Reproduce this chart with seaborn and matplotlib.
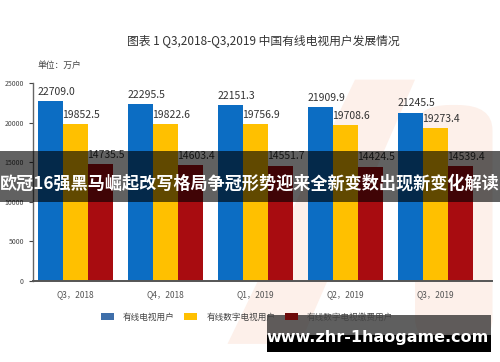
import pandas as pd
import matplotlib.pyplot as plt
import seaborn as sns
import numpy as np
from matplotlib.patches import Rectangle, FancyBboxPatch, Polygon, Patch

# data
quarters = ["Q3，2018", "Q4，2018", "Q1，2019", "Q2，2019", "Q3，2019"]
series = ["有线电视用户", "有线数字电视用户", "有线数字电视缴费用户"]
cable_users = [22709.0, 22295.5, 22151.3, 21909.9, 21245.5]
digital_users = [19852.5, 19822.6, 19756.9, 19708.6, 19273.4]
paying_users = [14735.5, 14603.4, 14551.7, 14424.5, 14539.4]

bar_colors = ["#0C6DC3", "#FFC000", "#A80C10"]
legend_colors = ["#3F6FAA", "#FFC000", "#6E0A0A"]

rows = []
for name, vals in zip(series, [cable_users, digital_users, paying_users]):
    for q, v in zip(quarters, vals):
        rows.append({"quarter": q, "series": name, "value": v})
df = pd.DataFrame(rows)

sns.set_theme(style="white")
plt.rcParams["font.family"] = ["Noto Sans CJK SC", "DejaVu Sans"]

fig = plt.figure(figsize=(5, 3.62), dpi=100)
fig.patch.set_facecolor("white")

# faint pink logo shape in the background
pink = "#FDF0EA"
fig.patches.append(FancyBboxPatch((0.83, 0.05), 0.155, 0.66,
                                  boxstyle="round,pad=0,rounding_size=0.07",
                                  transform=fig.transFigure, facecolor=pink,
                                  edgecolor="none", zorder=-2))
fig.patches.append(Polygon([(0.71, 0.78), (0.83, 0.78), (0.60, 0.05), (0.455, 0.05)],
                           closed=True, transform=fig.transFigure, facecolor=pink,
                           edgecolor="none", zorder=-2))

ax = fig.add_axes([0.066, 0.224, 0.918, 0.547])
ax.patch.set_alpha(0)

sns.barplot(data=df, x="quarter", y="value", hue="series", palette=bar_colors,
            width=0.833, saturation=1, legend=False, linewidth=0, ax=ax, zorder=2)

for cont in ax.containers:
    for bar in cont:
        h = bar.get_height()
        ax.annotate(f"{h:.1f}", (bar.get_x(), h), xytext=(0, 3),
                    textcoords="offset points", ha="left", va="bottom",
                    fontsize=7.5, color="#333333")

ax.set_ylim(0, 25000)
ax.set_xlim(-0.467, 4.633)
ax.set_yticks(np.arange(0, 25001, 5000))
ax.set_xlabel("")
ax.set_ylabel("")
ax.tick_params(axis="y", labelsize=5, colors="#444444", length=3, width=0.8, left=True)
ax.tick_params(axis="x", labelsize=6, colors="#555555", length=0, pad=7)
for s in ["top", "right"]:
    ax.spines[s].set_visible(False)
ax.spines["left"].set_color("#666666")
ax.spines["left"].set_linewidth(1.0)
ax.spines["bottom"].set_color("#555555")
ax.spines["bottom"].set_linewidth(1.4)

handles = [Patch(facecolor=c, edgecolor="none") for c in legend_colors]
fig.legend(handles, series, loc="center", bbox_to_anchor=(0.494, 0.124), ncol=3,
           frameon=False, fontsize=6.2, handlelength=1.5, handleheight=0.9,
           handletextpad=1.05, columnspacing=1.1, labelcolor="#444444")

fig.text(0.526, 0.889, "图表 1 Q3,2018-Q3,2019 中国有线电视用户发展情况",
         ha="center", va="center", fontsize=8.5, color="#333333")
fig.text(0.076, 0.82, "单位：万户", ha="left", va="center", fontsize=6.3, color="#444444")

# overlay banner
fig.patches.append(Rectangle((0, 0.442), 1, 0.141, transform=fig.transFigure,
                             facecolor="black", alpha=0.62, edgecolor="none", zorder=5))
fig.text(0.5, 0.492, "欧冠16强黑马崛起改写格局争冠形势迎来全新变数出现新变化解读",
         ha="center", va="center", fontsize=12.3, fontweight="bold", color="white", zorder=6)

# site watermark
fig.patches.append(Rectangle((0.534, 0.075), 0.448, 0.055, transform=fig.transFigure,
                             facecolor="#222222", alpha=0.72, edgecolor="none", zorder=5))
fig.patches.append(Rectangle((0.534, 0.028), 0.448, 0.047, transform=fig.transFigure,
                             facecolor="black", edgecolor="none", zorder=5))
fig.text(0.756, 0.069, "www.zhr-1haogame.com", ha="center", va="center",
         fontsize=11.5, fontweight="bold", color="white", family="DejaVu Sans", zorder=6)

fig.savefig("out.png", dpi=100)
